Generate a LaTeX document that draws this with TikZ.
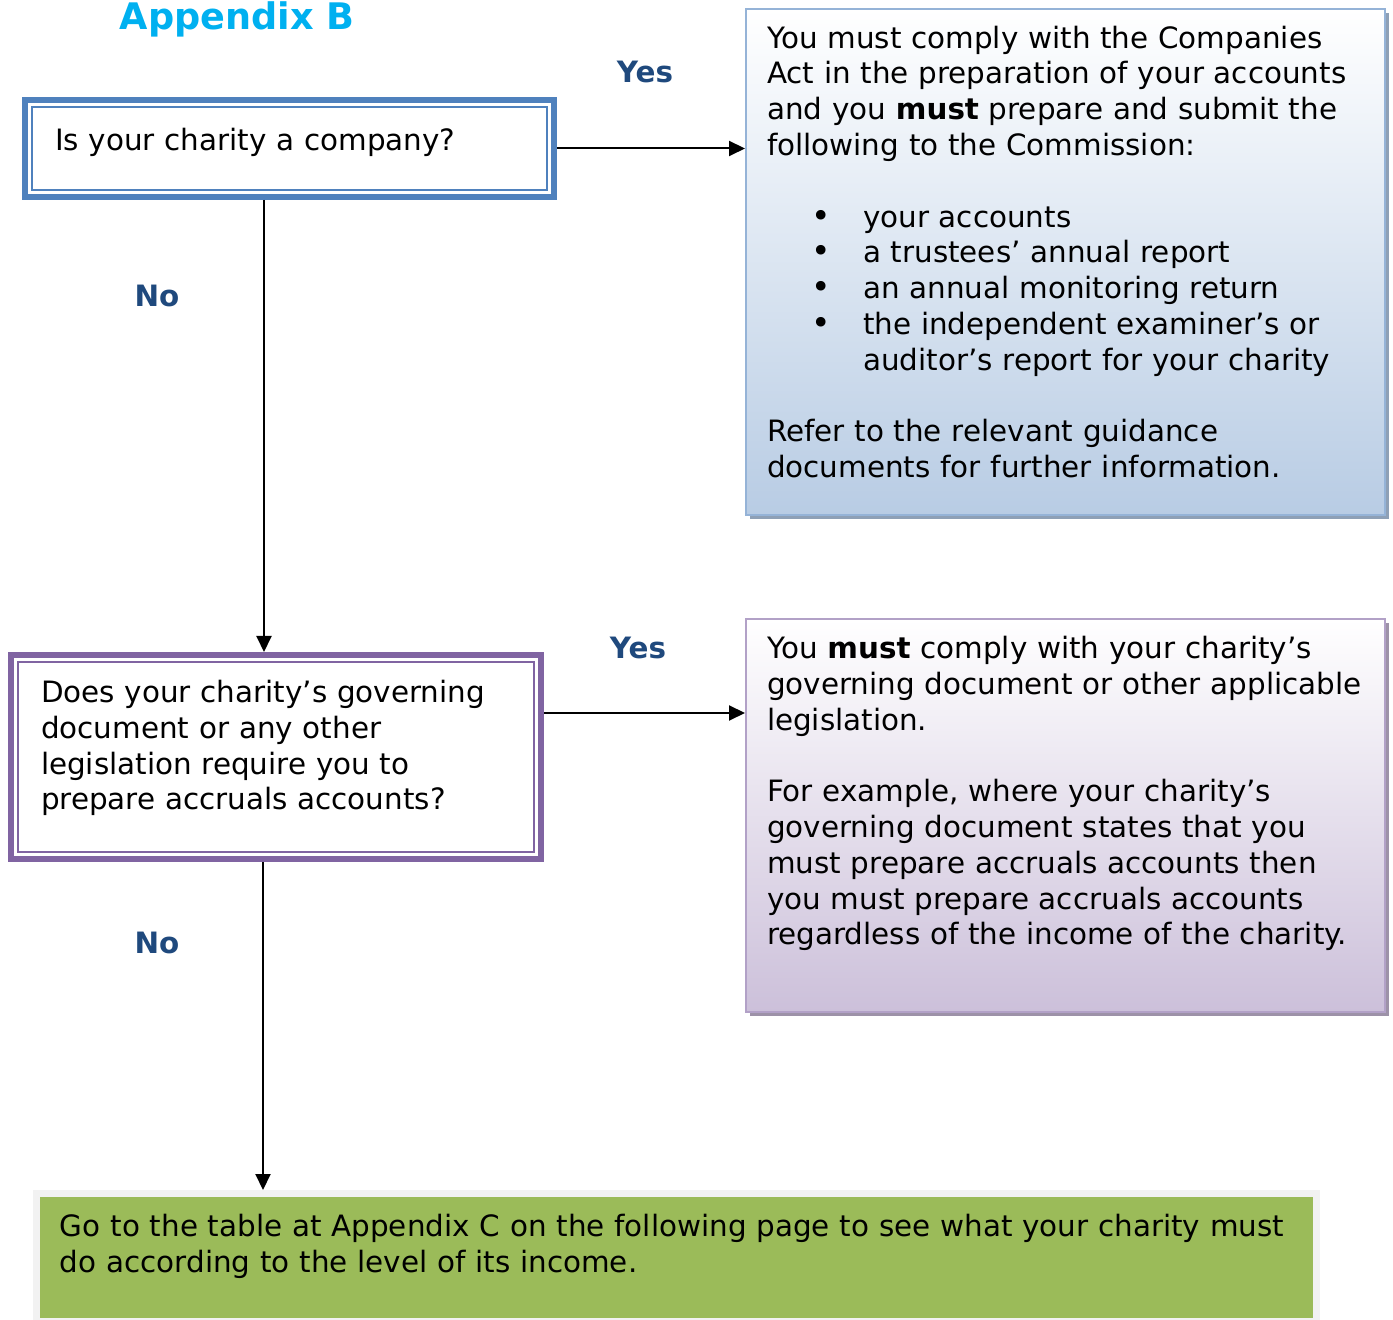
\documentclass[tikz,border=0pt]{standalone}
\usepackage{fontspec}
\setmainfont{DejaVu Sans}
\usetikzlibrary{arrows.meta,shadows}
\definecolor{apxcyan}{HTML}{00B0F0}
\definecolor{labelblue}{HTML}{1F497D}
\definecolor{qblue}{HTML}{4F81BD}
\definecolor{qpurple}{HTML}{8064A2}
\definecolor{ansblue}{HTML}{B8CCE4}
\definecolor{ansblueline}{HTML}{95B3D7}
\definecolor{ansblueshadow}{HTML}{8EA0B6}
\definecolor{anspurple}{HTML}{CCC0DA}
\definecolor{anspurpleline}{HTML}{B2A1C7}
\definecolor{anspurpleshadow}{HTML}{9D92A8}
\definecolor{gogreen}{HTML}{9BBB59}
\definecolor{gogrey}{HTML}{F2F2F2}
\newcommand{\bulletitem}[1]{\hspace*{22pt}\makebox[26pt][l]{{\fontsize{16.5pt}{17.9pt}\selectfont\textbullet}}#1}
\begin{document}
\begin{tikzpicture}[x=0.5pt, y=-0.5pt,
    body/.style={font=\fontsize{14.7pt}{17.9pt}\selectfont, align=left, anchor=north west},
    qbox/.style={body, draw=#1, line width=3pt, fill=white, inner xsep=15pt, inner ysep=0pt},
    ansbox/.style={body, draw=#1, line width=1pt, inner xsep=10.5pt, inner ysep=0pt},
    yesno/.style={font=\fontsize{14.7pt}{17.9pt}\selectfont\bfseries, text=labelblue, anchor=base},
    arr/.style={-{Triangle[length=8pt,width=7.5pt]}, line width=1pt}]
    \useasboundingbox (0,0) rectangle (1393,1320);
    \node[font=\fontsize{18.3pt}{21pt}\selectfont\bfseries, text=apxcyan, anchor=base] (title) at (237,30) {Appendix B};
    % questions
    \node[qbox=qblue, minimum width=264.5pt, minimum height=48.5pt, text width=234.5pt] (q1) at (22,97)
        {Is your charity a company?\par\kern6pt};
    \node[qbox=qpurple, minimum width=264pt, minimum height=102pt, text width=235pt] (q2) at (8,652)
        {Does your charity’s governing\\ document or any other\\ legislation require you to\\ prepare accruals accounts?\par\kern9pt};
    \foreach \q/\c in {q1/qblue, q2/qpurple}
        \draw[\c, line width=0.75pt] ([shift={(5pt,-5pt)}]\q.north west) rectangle ([shift={(-5pt,5pt)}]\q.south east);
    % answers
    \node[ansbox=ansblueline, top color=white, bottom color=ansblue,
        drop shadow={shadow xshift=2pt, shadow yshift=-2pt, fill=ansblueshadow, opacity=1},
        minimum width=319.5pt, minimum height=253pt, text width=298.5pt] (ans1) at (745,8)
        {You must comply with the Companies\\ Act in the preparation of your accounts\\
         and you \textbf{must} prepare and submit the\\ following to the Commission:\\[17.9pt]
         \bulletitem{your accounts}\\ \bulletitem{a trustees’ annual report}\\
         \bulletitem{an annual monitoring return}\\ \bulletitem{the independent examiner’s or}\\
         \hspace*{48pt}auditor’s report for your charity\\[17.9pt]
         Refer to the relevant guidance\\ documents for further information.\par\kern10pt};
    \node[ansbox=anspurpleline, top color=white, bottom color=anspurple,
        drop shadow={shadow xshift=2pt, shadow yshift=-2pt, fill=anspurpleshadow, opacity=1},
        minimum width=319.5pt, minimum height=196.5pt, text width=298.5pt] (ans2) at (745,618)
        {You \textbf{must} comply with your charity’s\\ governing document or other applicable\\ legislation.\\[17.9pt]
         For example, where your charity’s\\ governing document states that you\\ must prepare accruals accounts then\\
         you must prepare accruals accounts\\ regardless of the income of the charity.\par\kern22pt};
    \node[body, draw=gogrey, line width=3.5pt, fill=gogreen, inner xsep=11.75pt, inner ysep=0pt,
        minimum width=639.75pt, minimum height=64pt, text width=616.25pt] (go) at (33,1190)
        {Go to the table at Appendix C on the following page to see what your charity must\\
         do according to the level of its income.\par\kern11pt};
    % connectors
    \draw[arr] (q1.east) -- (q1.east -| ans1.west);
    \draw[arr] ([yshift=22pt]q2.east) coordinate (y2) -- (y2 -| ans2.west);
    \draw[arr] ([xshift=-12.75pt]q1.south) coordinate (n1) -- (n1 |- q2.north);
    \draw[arr] ([xshift=-6.5pt]q2.south) coordinate (n2) -- (n2 |- go.north);
    \node[yesno] (yes1) at (645,83) {Yes};
    \node[yesno] (no1) at (157,307) {No};
    \node[yesno] (yes2) at (638,659) {Yes};
    \node[yesno] (no2) at (157,953) {No};
\end{tikzpicture}
\end{document}
